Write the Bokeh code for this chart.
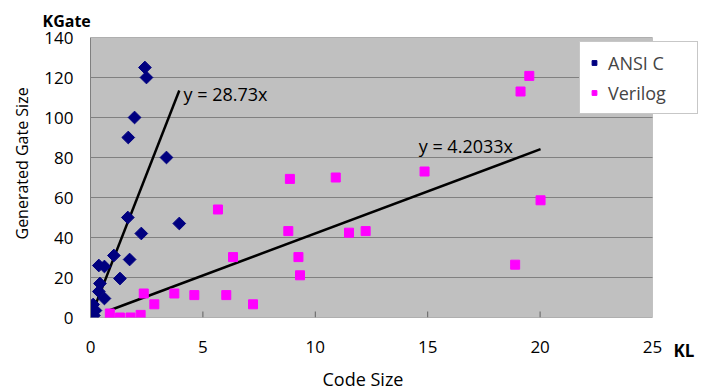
import math
from bokeh.plotting import figure
from bokeh.models import Range1d, Label, FixedTicker, Legend, BoxAnnotation, Title, LinearAxis
from bokeh.embed import file_html
from bokeh.resources import INLINE

# ---- data ----
ansi_x = [2.42, 2.49, 1.96, 1.68, 3.38, 1.66, 2.26, 3.95, 1.04, 1.74, 0.37, 0.62, 1.31, 0.42, 0.37, 0.62, 0.12, 0.22, 0.15]
ansi_y = [125, 120, 100, 90, 80, 50, 42, 47, 31, 29, 26, 25.5, 19.5, 17, 13, 9.5, 6.5, 3.5, 1]

veri_x = [8.87, 10.91, 14.86, 20.02, 5.67, 8.8, 11.5, 12.24, 6.34, 9.25, 9.32, 18.89,
          2.37, 3.73, 4.62, 6.04, 2.84, 7.23, 0.86, 1.31, 1.78, 2.23, 19.52, 19.13]
veri_y = [69.3, 70, 73, 58.6, 54, 43.2, 42.4, 43.2, 30.2, 30.2, 21.1, 26.4,
          12, 12, 11.2, 11.2, 6.6, 6.6, 2, 0, 0, 1.3, 120.8, 113]

ansi_slope = 28.73
veri_slope = 4.2033
ansi_label = "y = 28.73x"
veri_label = "y = 4.2033x"

x_ticks = [0, 5, 10, 15, 20, 25]
y_ticks = [0, 20, 40, 60, 80, 100, 120, 140]
x_unit = "KL"
y_unit = "KGate"
x_title = "Code Size"
y_title = "Generated Gate Size"

FONT = "Open Sans"
GRID = "#808080"

X_MAX, Y_MAX = 25, 140
# frame is wider than the grey plot area so that the legend and unit text fit
x_end = X_MAX * 610 / 562
kl_pos = 26.4

p = figure(width=700, height=390, output_backend="svg", toolbar_location=None,
           x_range=Range1d(0, x_end), y_range=Range1d(0, Y_MAX),
           min_border_left=90, min_border_right=0, min_border_top=37, min_border_bottom=70)

p.background_fill_color = "white"
p.border_fill_color = "white"
p.outline_line_color = None
p.xgrid.grid_line_color = None
p.ygrid.grid_line_color = None

# grey plot area
p.add_layout(BoxAnnotation(left=0, right=X_MAX, bottom=0, top=Y_MAX,
                           fill_color="#C0C0C0", fill_alpha=1,
                           line_color=GRID, line_width=1, level="underlay"))
# horizontal gridlines
p.segment(x0=[0] * len(y_ticks), x1=[X_MAX] * len(y_ticks), y0=y_ticks, y1=y_ticks,
          line_color=GRID, line_width=1)
# small inner tick marks on x axis
p.segment(x0=x_ticks[1:-1], x1=x_ticks[1:-1], y0=[0] * 4, y1=[3] * 4,
          line_color="#606060", line_width=1)

p.xaxis.ticker = FixedTicker(ticks=x_ticks)
p.yaxis.ticker = FixedTicker(ticks=y_ticks)
for ax in (p.xaxis, p.yaxis):
    ax.minor_tick_line_color = None
    ax.major_tick_line_color = None
    ax.major_tick_in = 0
    ax.major_tick_out = 0
    ax.major_label_text_font = FONT
    ax.major_label_text_font_size = "17px"
    ax.major_label_text_color = "black"
p.xaxis.axis_line_color = None
p.yaxis.axis_line_color = GRID
p.xaxis.major_label_standoff = 23
p.yaxis.major_label_standoff = 17

# unit axis (bold "KL") sharing the row of the numeric tick labels
unit_axis = LinearAxis(ticker=FixedTicker(ticks=[kl_pos]),
                       major_label_overrides={kl_pos: x_unit},
                       axis_line_color=None, major_tick_line_color=None,
                       minor_tick_line_color=None, major_tick_in=0, major_tick_out=0,
                       major_label_standoff=-17, major_label_text_font=FONT,
                       major_label_text_font_size="17px",
                       major_label_text_font_style="bold",
                       major_label_text_color="black")
p.add_layout(unit_axis, "below")

# trend lines from slope and series x extent
ax0, ax1 = min(ansi_x), max(ansi_x)
vx0, vx1 = min(veri_x), max(veri_x)
p.line([ax0, ax1], [ansi_slope * ax0, ansi_slope * ax1], line_color="black", line_width=2.5)
p.line([vx0, vx1], [veri_slope * vx0, veri_slope * vx1], line_color="black", line_width=2.5)

r1 = p.scatter(ansi_x, ansi_y, marker="square", size=9, angle=math.pi / 4,
               fill_color="#000080", line_color="#000080")
r2 = p.scatter(veri_x, veri_y, marker="square", size=9,
               fill_color="#FF00FF", line_color="#FF00FF")

legend = Legend(items=[("ANSI C", [r1]), ("Verilog", [r2])], location=(489, 203))
legend.label_text_font = FONT
legend.label_text_font_size = "18px"
legend.label_height = 25
legend.glyph_height = 25
legend.glyph_width = 12
legend.label_standoff = 8
legend.label_width = 81
legend.spacing = 5
legend.padding = 8
legend.margin = 0
legend.border_line_color = "#909090"
legend.border_line_width = 1
legend.background_fill_color = "white"
legend.background_fill_alpha = 1
p.add_layout(legend, "center")

for txt, x, y in ((ansi_label, 4.14, 112), (veri_label, 14.6, 85.9)):
    p.add_layout(Label(x=x, y=y, text=txt, text_font=FONT, text_font_size="18px",
                       text_align="left", text_baseline="middle", text_color="black"))

p.add_layout(Title(text=y_unit, align="left", offset=-48, text_font=FONT,
                   text_font_size="16px", text_font_style="bold", text_color="black",
                   standoff=12), "above")
p.add_layout(Title(text=y_title, align="left", offset=78, text_font=FONT,
                   text_font_size="16px", text_font_style="normal", text_color="black",
                   vertical_align="top", standoff=14), "left")
p.add_layout(Title(text=x_title, align="left", offset=232, text_font=FONT,
                   text_font_size="18px", text_font_style="normal", text_color="black",
                   standoff=0), "below")

open("out.html", "w").write(file_html(p, INLINE))
